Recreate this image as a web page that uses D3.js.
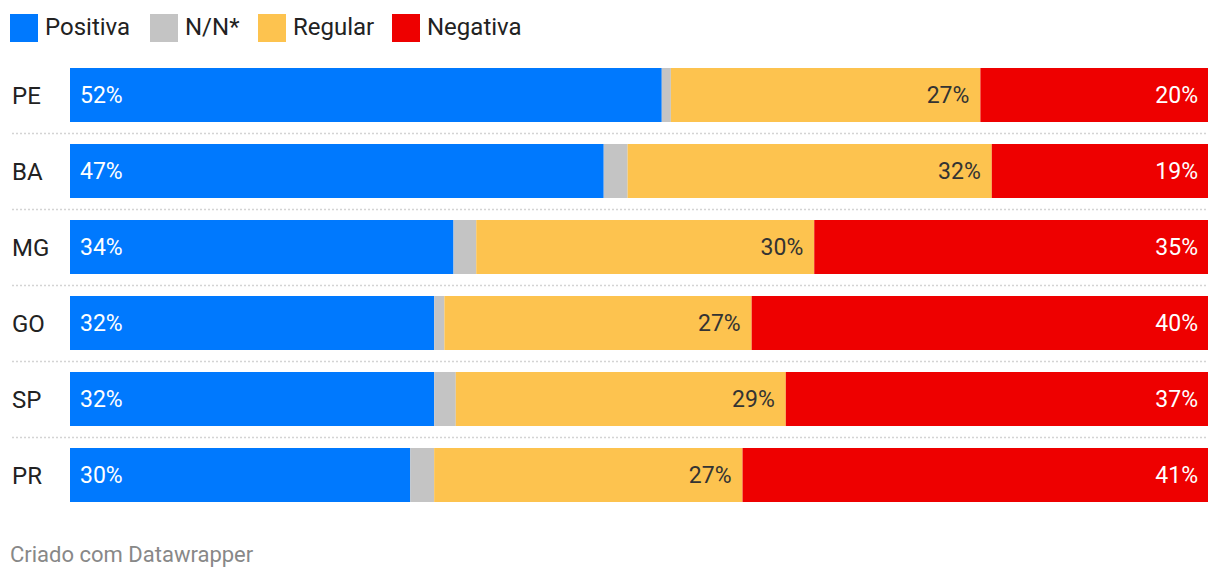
<!DOCTYPE html>
<html><head><meta charset="utf-8">
<script src="https://cdn.jsdelivr.net/npm/d3@7"></script>
<style>
body{margin:0;background:#fff;font-family:Roboto,"Noto Sans",sans-serif;}
</style></head>
<body><svg id="c" width="1220" height="580"></svg>
<script>
const categories = ["PE","BA","MG","GO","SP","PR"];
const seriesNames = ["Positiva","N/N*","Regular","Negativa"];
const positiva = [52, 46.9, 33.7, 32, 32, 29.9];
const nn       = [0.8, 2.1, 2.0, 0.9, 1.9, 2.1];
const regular  = [27.2, 32, 29.7, 27.0, 29, 27.1];
const negativa = [20, 19.0, 34.6, 40.1, 37.1, 40.9];
const labelsPos = ["52%","47%","34%","32%","32%","30%"];
const labelsReg = ["27%","32%","30%","27%","29%","27%"];
const labelsNeg = ["20%","19%","35%","40%","37%","41%"];
const colors = ["#0079fe","#c4c4c4","#fdc34f","#ee0000"];

const svg = d3.select("#c");
const rows = categories.map((c,i)=>({cat:c, Positiva:positiva[i], "N/N*":nn[i], Regular:regular[i], Negativa:negativa[i]}));
const stack = d3.stack().keys(seriesNames)(rows);

const x = d3.scaleLinear().domain([0,100]).range([70,1208]);
const bh = 54, step = 76, top0 = 68;
const yPos = c => top0 + categories.indexOf(c)*step;

// legend
const legendX = [10,150,258,392];
seriesNames.forEach((s,i)=>{
  const g = svg.append("g").attr("transform",`translate(${legendX[i]},14)`);
  g.append("rect").attr("width",28).attr("height",28).attr("fill",colors[i]);
  g.append("text").attr("x",35).attr("y",20.5).attr("font-size",24).attr("fill","#222").text(s);
});

// separators
categories.slice(0,-1).forEach(c=>{
  svg.append("line").attr("x1",12).attr("x2",1208)
    .attr("y1",yPos(c)+bh+11.5).attr("y2",yPos(c)+bh+11.5)
    .attr("stroke","#d4d4d4").attr("stroke-width",1.5).attr("stroke-dasharray","2,2");
});

stack.forEach((layer,k)=>{
  svg.append("g").selectAll("rect").data(layer).join("rect")
    .attr("x",d=>x(d[0])).attr("width",d=>x(d[1])-x(d[0]))
    .attr("y",d=>yPos(d.data.cat)).attr("height",bh)
    .attr("fill",colors[k]);
});

// row labels
svg.append("g").selectAll("text").data(categories).join("text")
  .attr("x",12).attr("y",c=>yPos(c)+bh/2+9).attr("font-size",24).attr("fill","#222").text(c=>c);

// value labels
const lg = svg.append("g").attr("font-size",23);
stack[0].forEach((d,i)=>{
  lg.append("text").attr("x",x(d[0])+10).attr("y",yPos(d.data.cat)+bh/2+8).attr("fill","#fff").text(labelsPos[i]);
});
stack[2].forEach((d,i)=>{
  lg.append("text").attr("x",x(d[1])-11).attr("y",yPos(d.data.cat)+bh/2+8).attr("text-anchor","end").attr("fill","#333").text(labelsReg[i]);
});
stack[3].forEach((d,i)=>{
  lg.append("text").attr("x",x(d[1])-10).attr("y",yPos(d.data.cat)+bh/2+8).attr("text-anchor","end").attr("fill","#fff").text(labelsNeg[i]);
});

svg.append("text").attr("x",10).attr("y",562).attr("font-size",22).attr("fill","#888").text("Criado com Datawrapper");
</script></body></html>
